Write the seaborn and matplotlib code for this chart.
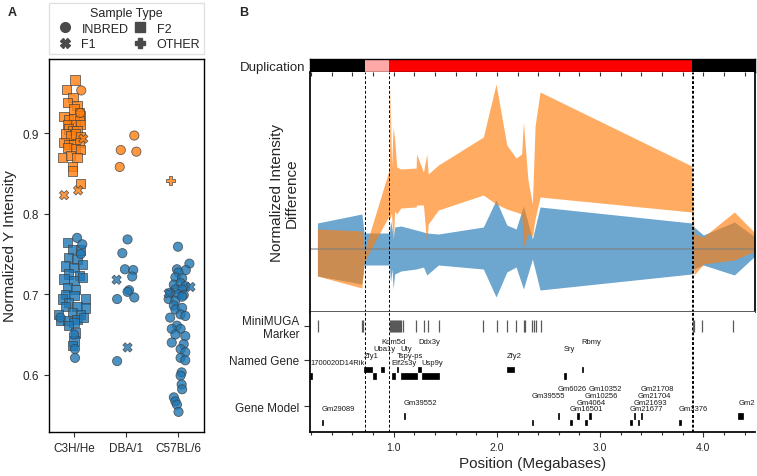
import numpy as np
import pandas as pd
import matplotlib
matplotlib.use("Agg")
import matplotlib.pyplot as plt
from matplotlib.lines import Line2D
from matplotlib.ticker import MultipleLocator, FixedLocator
import seaborn as sns

sns.set_theme(style="ticks")
plt.rcParams["font.family"] = ["Liberation Sans", "DejaVu Sans"]

# ---------------- Panel A data ----------------
strains = ["C3H/He", "DBA/1", "C57BL/6"]
sample_types = ["INBRED", "F2", "F1", "OTHER"]

c3h_f2_dup_val = [0.966, 0.954, 0.944, 0.938, 0.934, 0.930, 0.926, 0.922, 0.921, 0.917, 0.918, 0.915,
                  0.911, 0.911, 0.911, 0.905, 0.903, 0.903, 0.899, 0.897, 0.899, 0.896, 0.888, 0.886,
                  0.886, 0.888, 0.882, 0.881, 0.880, 0.870, 0.872, 0.870, 0.859, 0.853, 0.837]
c3h_f2_dup_off = [0.02, -0.15, -0.02, -0.12, 0.06, 0.00, 0.10, 0.13, -0.19, -0.10, 0.00, 0.10,
                  -0.13, 0.03, 0.13, -0.10, -0.02, 0.06, -0.16, -0.06, 0.03, 0.13, -0.19, -0.10,
                  0.00, 0.10, -0.13, 0.03, 0.13, -0.22, -0.06, 0.06, -0.03, -0.03, 0.13]
c3h_inbred_dup_val = [0.953, 0.925]
c3h_inbred_dup_off = [0.14, 0.12]
c3h_f1_dup_val = [0.893, 0.829, 0.823]
c3h_f1_dup_off = [0.18, 0.08, -0.19]
c3h_f2_nodup_val = [0.764, 0.756, 0.755, 0.746, 0.743, 0.735, 0.733, 0.737, 0.725, 0.723, 0.719, 0.717,
                    0.721, 0.708, 0.706, 0.700, 0.698, 0.694, 0.694, 0.690, 0.685, 0.685, 0.683, 0.675,
                    0.677, 0.675, 0.667, 0.667, 0.669, 0.665, 0.671, 0.661, 0.652, 0.642, 0.636]
c3h_f2_nodup_off = [-0.13, -0.03, 0.13, -0.10, 0.06, -0.16, 0.00, 0.16, -0.10, 0.10, -0.19, 0.00,
                    0.16, -0.13, 0.03, -0.16, 0.00, 0.22, -0.22, -0.10, 0.06, -0.16, 0.22, -0.29,
                    -0.03, 0.13, -0.26, -0.13, 0.06, 0.00, 0.19, -0.10, 0.03, 0.00, -0.03]
c3h_inbred_nodup_val = [0.770, 0.762, 0.750, 0.671, 0.650, 0.632, 0.621]
c3h_inbred_nodup_off = [0.06, 0.16, 0.13, -0.26, 0.00, 0.02, 0.02]
dba_inbred_dup_val = [0.897, 0.879, 0.877, 0.858]
dba_inbred_dup_off = [0.16, -0.10, 0.20, -0.12]
dba_inbred_nodup_val = [0.768, 0.751, 0.731, 0.730, 0.722, 0.705, 0.703, 0.696, 0.694, 0.617]
dba_inbred_nodup_off = [0.03, -0.07, -0.02, 0.14, 0.12, 0.06, 0.03, 0.16, -0.17, -0.17]
dba_f1_nodup_val = [0.718, 0.634]
dba_f1_nodup_off = [-0.18, 0.03]
b6_other_dup_val = [0.841]
b6_other_dup_off = [-0.14]
b6_inbred_nodup_val = [0.759, 0.738, 0.730, 0.731, 0.727, 0.721, 0.720, 0.712, 0.714, 0.710, 0.706,
                       0.706, 0.702, 0.700, 0.699, 0.694, 0.692, 0.697, 0.686, 0.681, 0.683, 0.671,
                       0.675, 0.673, 0.661, 0.657, 0.657, 0.650, 0.648, 0.640, 0.638, 0.632, 0.628,
                       0.621, 0.618, 0.603, 0.599, 0.588, 0.582, 0.572, 0.567, 0.563, 0.554]
b6_inbred_nodup_off = [0.00, 0.22, 0.15, -0.02, 0.01, -0.05, 0.08, -0.08, 0.05, 0.14, -0.05,
                       0.08, -0.15, 0.01, 0.11, -0.18, -0.05, 0.08, -0.08, -0.05, 0.08, -0.15,
                       0.05, 0.14, -0.02, -0.12, 0.05, -0.05, 0.14, -0.12, 0.11, 0.05, 0.14,
                       0.05, 0.14, 0.07, 0.05, 0.07, 0.08, -0.08, -0.05, -0.02, 0.01]
b6_f1_nodup_val = [0.709, 0.701]
b6_f1_nodup_off = [0.24, -0.18]

groups = [
    ("C3H/He", "F2", "No", c3h_f2_nodup_val, c3h_f2_nodup_off),
    ("C3H/He", "INBRED", "No", c3h_inbred_nodup_val, c3h_inbred_nodup_off),
    ("DBA/1", "INBRED", "No", dba_inbred_nodup_val, dba_inbred_nodup_off),
    ("DBA/1", "F1", "No", dba_f1_nodup_val, dba_f1_nodup_off),
    ("C57BL/6", "INBRED", "No", b6_inbred_nodup_val, b6_inbred_nodup_off),
    ("C57BL/6", "F1", "No", b6_f1_nodup_val, b6_f1_nodup_off),
    ("C3H/He", "F2", "Yes", c3h_f2_dup_val, c3h_f2_dup_off),
    ("C3H/He", "INBRED", "Yes", c3h_inbred_dup_val, c3h_inbred_dup_off),
    ("C3H/He", "F1", "Yes", c3h_f1_dup_val, c3h_f1_dup_off),
    ("DBA/1", "INBRED", "Yes", dba_inbred_dup_val, dba_inbred_dup_off),
    ("C57BL/6", "OTHER", "Yes", b6_other_dup_val, b6_other_dup_off),
]

rows = []
for strain, st, dup, vals, offs in groups:
    for v, o in zip(vals, offs):
        rows.append({"Strain": strain, "Sample Type": st, "Duplication": dup,
                     "Intensity": v, "xpos": strains.index(strain) + o})
dfA = pd.DataFrame(rows)

marker_map = {"INBRED": "o", "F2": "s", "F1": "X", "OTHER": "P"}
palette = {"Yes": "#ff7f0e", "No": "#1f77b4"}

# ---------------- Panel B data ----------------
dup_start = [0.19, 0.724, 0.959, 3.89]
dup_end = [0.724, 0.959, 3.89, 4.5]
dup_color = ["black", "#ffa8a8", "#ff0000", "black"]
boundaries = [0.724, 0.959, 3.885, 3.897]

orange_x = [0.262, 0.692, 0.714, 0.959, 0.965, 0.98, 0.995, 1.01, 1.03, 1.07, 1.218, 1.222, 1.289,
            1.321, 1.335, 1.434, 1.869, 1.992, 2.096, 2.186, 2.24, 2.257, 2.30, 2.344, 2.37, 2.418,
            3.887, 3.91, 4.0, 4.30, 4.5]
orange_hi = [0.20, 0.18, -0.03, 0.80, 1.65, 0.82, 1.22, 1.10, 0.82, 0.80, 0.81, 0.95, 0.77,
             0.95, 0.75, 0.84, 1.12, 1.65, 1.04, 0.91, 0.95, 1.27, 0.70, 0.45, 1.23, 1.57,
             0.83, 0.15, 0.12, 0.37, 0.16]
orange_lo = [-0.27, -0.39, -0.13, 0.34, 0.30, 0.36, 0.03, 0.38, 0.35, 0.41, 0.42, 0.44, 0.44,
             0.04, 0.25, 0.39, 0.54, 0.45, 0.40, 0.37, 0.35, 0.02, 0.15, 0.13, 0.30, 0.52,
             0.37, -0.26, -0.15, -0.11, -0.02]

blue_x = [0.262, 0.692, 0.714, 0.959, 0.97, 0.985, 0.995, 1.01, 1.07, 1.218, 1.289, 1.321, 1.434,
          1.869, 1.992, 2.096, 2.186, 2.257, 2.344, 2.418, 3.887, 3.91, 4.0, 4.30, 4.5]
blue_hi = [0.26, 0.35, 0.16, 0.16, 0.28, 0.20, 0.10, 0.22, 0.23, 0.19, 0.17, 0.16, 0.15,
           0.22, 0.49, 0.24, 0.20, 0.43, 0.10, 0.42, 0.26, 0.22, 0.14, 0.27, 0.12]
blue_lo = [-0.27, -0.35, -0.16, -0.16, -0.33, -0.20, -0.40, -0.25, -0.22, -0.20, -0.18, -0.26, -0.16,
           -0.20, -0.48, -0.23, -0.18, -0.40, -0.10, -0.41, -0.25, -0.20, -0.16, -0.26, -0.07]

marker_pos = [0.266, 0.692, 0.708, 0.966, 0.975, 0.985, 0.995, 1.003, 1.01, 1.02, 1.03, 1.04,
              1.05, 1.06, 1.075, 1.095, 1.215, 1.295, 1.337, 1.44, 1.869, 1.999, 2.096, 2.186,
              2.263, 2.276, 2.344, 2.363, 2.38, 2.425, 3.896, 3.909, 3.987, 4.29]

named_genes = ["1700020D14Rik", "Zfy1", "Uba1y", "Kdm5d", "Eif2s3y", "Tspy-ps", "Uty", "Ddx3y",
               "Usp9y", "Zfy2", "Sry", "Rbmy"]
named_start = [0.190, 0.714, 0.80, 0.88, 0.98, 1.031, 1.07, 1.235, 1.27, 2.096, 2.650, 2.820]
named_end = [0.205, 0.789, 0.825, 0.91, 1.01, 1.046, 1.225, 1.265, 1.435, 2.167, 2.666, 2.838]

model_genes = ["Gm29089", "Gm39552", "Gm39555", "Gm6026", "Gm16501", "Gm4064", "Gm10256",
               "Gm10352", "Gm21677", "Gm21693", "Gm21704", "Gm21708", "Gm3376", "Gm2"]
model_start = [0.305, 1.099, 2.338, 2.590, 2.709, 2.774, 2.853, 2.893, 3.290, 3.324, 3.363,
               3.393, 3.764, 4.34]
model_end = [0.320, 1.114, 2.353, 2.605, 2.724, 2.792, 2.869, 2.911, 3.306, 3.342, 3.380,
             3.409, 3.780, 4.38]

track_labels = ["MiniMUGA\nMarker", "Named Gene", "Gene Model"]

# ---------------- Figure ----------------
W, H = 757, 477
fig = plt.figure(figsize=(W / 100, H / 100), dpi=100)

def box(x0, y0, x1, y1):
    return [x0 / W, 1 - y1 / H, (x1 - x0) / W, (y1 - y0) / H]

# Panel A
axA = fig.add_axes(box(49, 60, 204, 433))
sns.scatterplot(data=dfA, x="xpos", y="Intensity", hue="Duplication", style="Sample Type",
                markers=marker_map, palette=palette, s=44, alpha=0.8, edgecolor="0.25",
                linewidth=0.6, legend=False, ax=axA)
axA.set_xlim(-0.48, 2.5)
axA.set_ylim(0.529, 0.992)
axA.set_xticks(range(len(strains)))
axA.set_xticklabels(strains)
axA.set_yticks([0.6, 0.7, 0.8, 0.9])
axA.set_xlabel("")
axA.set_ylabel("Normalized Y Intensity", fontsize=11, labelpad=4)
axA.tick_params(labelsize=8.5, length=3.5, width=0.8, color="0.2")
for sp in axA.spines.values():
    sp.set_color("black")
    sp.set_linewidth(1.0)

handles = [Line2D([], [], marker=marker_map[t], linestyle="", markersize=7,
                  markerfacecolor="#4a4a4a", markeredgecolor="#4a4a4a") for t in
           ["INBRED", "F1", "F2", "OTHER"]]
leg = axA.legend(handles, ["INBRED", "F1", "F2", "OTHER"], title="Sample Type", ncol=2,
                 loc="lower left", bbox_to_anchor=(0, 1.013, 1, 0.1), mode="expand",
                 borderaxespad=0, fontsize=9, title_fontsize=9, frameon=True,
                 fancybox=False, edgecolor="0.85", handletextpad=0.3, columnspacing=1.0,
                 labelspacing=0.3, borderpad=0.3)

# Panel B - duplication bar
xmin, xmax = 0.19, 4.5
axD = fig.add_axes(box(310, 60, 755, 73.3))
axD.broken_barh(list(zip(dup_start, np.subtract(dup_end, dup_start))), (0, 1),
                facecolors=dup_color, edgecolor="none")
axD.set_xlim(xmin, xmax)
axD.set_ylim(0, 1)
axD.set_xticks([])
axD.set_yticks([0.5])
axD.set_yticklabels(["Duplication"], fontsize=9.5)
axD.tick_params(axis="y", length=0, pad=3)
for sp in axD.spines.values():
    sp.set_color("black")
    sp.set_linewidth(1.0)

# Panel B - intensity
axI = fig.add_axes(box(310, 73.3, 755, 313))
axI.fill_between(blue_x, blue_lo, blue_hi, color="#1f77b4", alpha=0.65, linewidth=0)
axI.fill_between(orange_x, orange_lo, orange_hi, color="#ff7f0e", alpha=0.65, linewidth=0)
axI.axhline(0, color="gray", alpha=0.55, linewidth=1.5)
for b in boundaries:
    axI.axvline(b, color="black", linestyle=(0, (3, 2)), linewidth=0.7)
axI.set_xlim(xmin, xmax)
axI.set_ylim(-0.63, 1.767)
axI.set_yticks([])
axI.xaxis.set_ticks_position("top")
axI.xaxis.set_major_locator(FixedLocator([1, 2, 3, 4]))
axI.xaxis.set_minor_locator(MultipleLocator(0.2))
axI.tick_params(axis="x", which="both", direction="in", length=3, width=0.8,
                labeltop=False, labelbottom=False, color="0.2")
axI.set_ylabel("Normalized Intensity\nDifference", fontsize=11, labelpad=8, linespacing=1.1)
axI.spines["top"].set_visible(False)
axI.spines["left"].set_color("black")
axI.spines["right"].set_color("black")
axI.spines["bottom"].set_color("0.3")
axI.spines["bottom"].set_linewidth(1.3)

# Panel B - tracks
axT = fig.add_axes(box(310, 313, 755, 433))
axT.set_xlim(xmin, xmax)
axT.set_ylim(120, 0)
for b in boundaries:
    axT.axvline(b, color="black", linestyle=(0, (3, 2)), linewidth=0.7)
axT.vlines(marker_pos, 7.7, 20.3, color="0.35", linewidth=0.9)

name_levels = [50.3, 43.7, 37.0, 29.7]
for i, (g, s0, e0) in enumerate(zip(named_genes, named_start, named_end)):
    y0 = 61.0 if i % 2 == 0 else 54.7
    axT.broken_barh([(s0, e0 - s0)], (y0, 5.8), facecolors="black", edgecolor="black",
                    linewidth=0.5)
    axT.text(s0, name_levels[i % 4], g, fontsize=5.5, ha="left", va="center", color="0.1")

model_levels = [97.0, 90.3, 83.7, 77.0]
for i, (g, s0, e0) in enumerate(zip(model_genes, model_start, model_end)):
    y0 = 107.7 if i % 2 == 0 else 101.3
    axT.broken_barh([(s0, e0 - s0)], (y0, 5.8), facecolors="black", edgecolor="black",
                    linewidth=0.5)
    axT.text(s0, model_levels[i % 4], g, fontsize=5.5, ha="left", va="center", color="0.1")

axT.set_yticks([13.7, 48.0, 94.3])
axT.set_yticklabels(track_labels, fontsize=8.5, linespacing=1.05)
axT.tick_params(axis="y", length=4.5, width=0.8, pad=3, color="0.2")
axT.xaxis.set_major_locator(FixedLocator([1, 2, 3, 4]))
axT.xaxis.set_minor_locator(MultipleLocator(0.2))
axT.set_xticklabels(["1.0", "2.0", "3.0", "4.0"])
axT.tick_params(axis="x", which="major", length=3.5, width=0.8, labelsize=7.5, color="0.2")
axT.tick_params(axis="x", which="minor", length=2.5, width=0.8, color="0.2")
axT.set_xlabel("Position (Megabases)", fontsize=11, labelpad=3)
axT.spines["top"].set_visible(False)
axT.spines["right"].set_visible(False)
axT.spines["left"].set_color("black")
axT.spines["bottom"].set_color("black")

fig.text(12 / W, 1 - 13 / H, "A", fontsize=9, fontweight="bold", ha="center", va="center")
fig.text(244 / W, 1 - 13 / H, "B", fontsize=9, fontweight="bold", ha="center", va="center")

fig.savefig("out.png", dpi=100)
